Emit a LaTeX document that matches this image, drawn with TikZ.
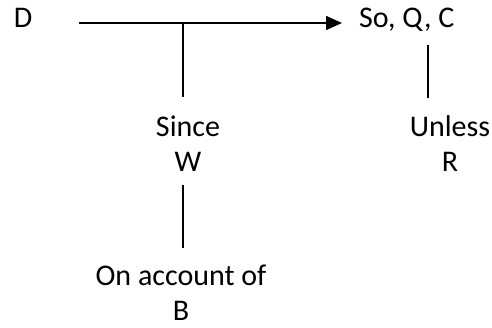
\documentclass[tikz,border=0pt]{standalone}
\usepackage{fontspec}
\setmainfont{Carlito}
\usetikzlibrary{arrows.meta,positioning,calc}

\begin{document}
\begin{tikzpicture}[
    x=1pt, y=-1pt,
    font=\fontsize{30}{35}\selectfont,
    txt/.style={inner sep=0pt, outer sep=0pt, align=center},
    link/.style={line width=1.6pt, draw=black},
    arr/.style={link, -{Triangle[length=16pt, width=14pt]}}
]
\useasboundingbox (0,0) rectangle (492,328);
% top row: data and claim
\node[txt, anchor=base] (data) at (23,28) {D};
\node[txt, anchor=base west] (claim) at (359,28) {So, Q, C};
% labels underneath (base = last line)
\node[txt, anchor=base] (warrant) at (188,172) {Since\\W};
\node[txt, anchor=base] (backing) at (181,320) {On account of\\B};
\node[txt, anchor=base] (rebuttal) at (450,172) {Unless\\R};
\coordinate (join) at (183,23);
\coordinate (hinge) at (428,23);

\draw[arr, shorten <=47pt, shorten >=17pt] (data.east |- join) -- (claim.west |- join);
\draw[link, shorten >=19pt] (join) -- (join |- warrant.north);
\draw[link, shorten <=13pt, shorten >=16pt] (warrant.south -| join) -- (backing.north -| join);
\draw[link, shorten <=13pt, shorten >=18pt] (claim.south -| hinge) -- (rebuttal.north -| hinge);

\end{tikzpicture}
\end{document}
